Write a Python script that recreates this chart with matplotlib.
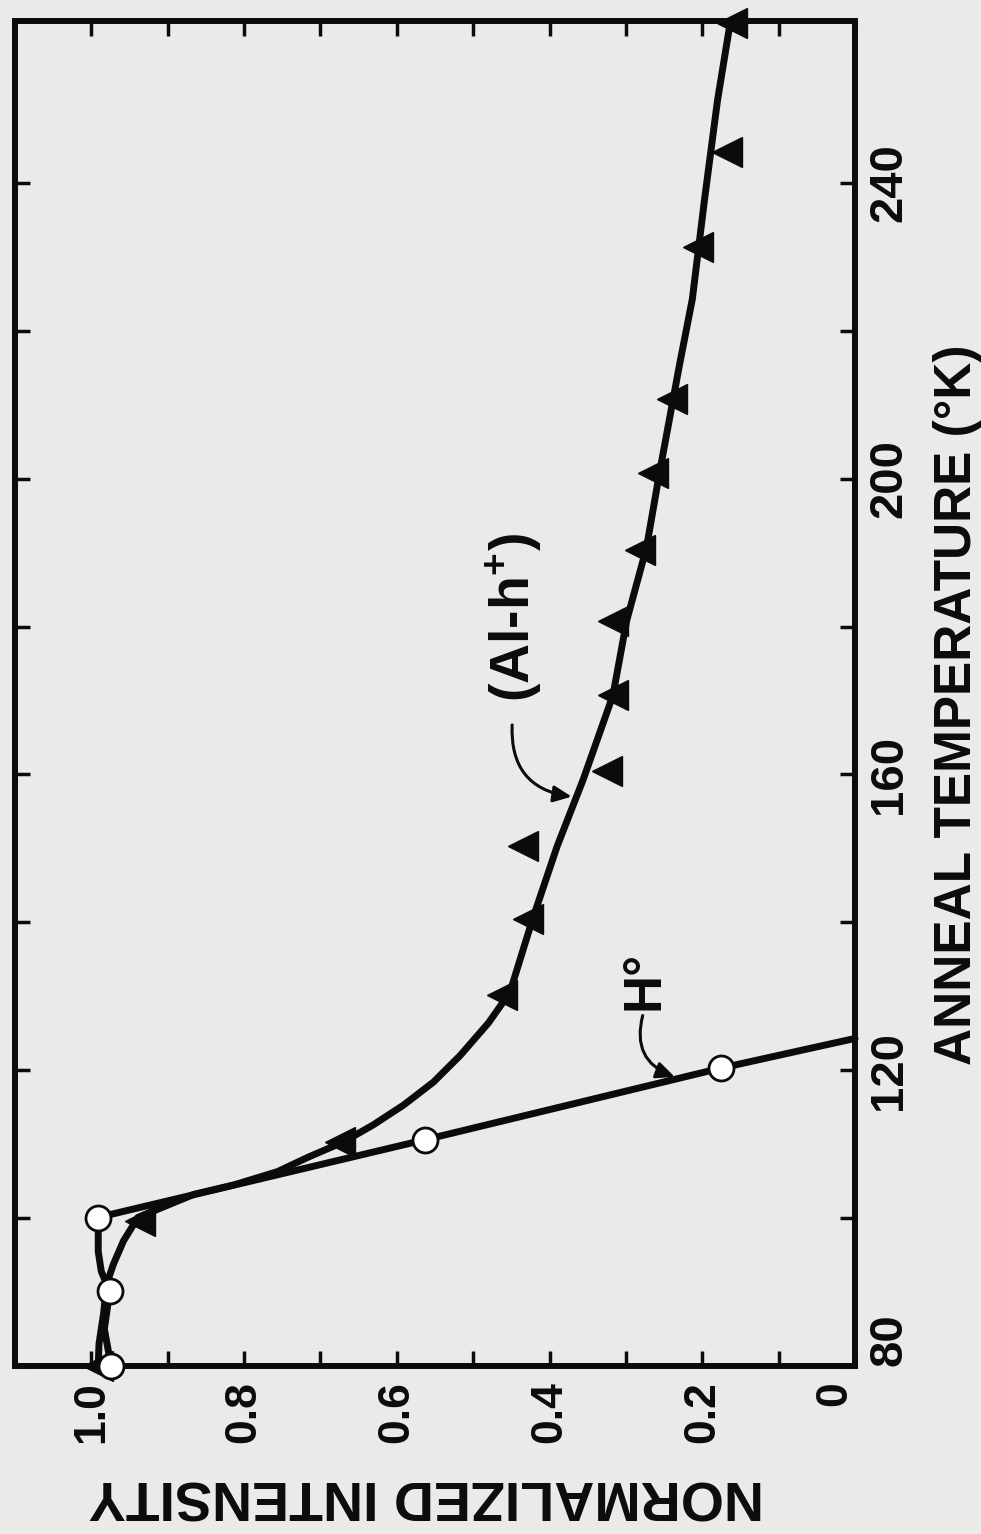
"""
plot.py

anneal curves of the H and (Al-h+) centres, drawn the way the scanned page
shows them (page turned a quarter turn, temperature running upward)
"""
import matplotlib
matplotlib.use('Agg')
from matplotlib import pyplot as plt

# H° centre, open circles
h_temp = [80.0, 90.1, 100.0, 110.6, 120.3]
h_int = [0.974, 0.976, 0.991, 0.563, 0.175]

# (Al-h+) centre, filled triangles
al_temp = [80.0, 99.6, 110.3, 130.2, 140.5, 150.3, 160.5, 170.7,
           180.7, 190.4, 200.8, 210.8, 231.4, 244.2, 261.6]
al_int = [0.991, 0.936, 0.674, 0.462, 0.428, 0.435, 0.325, 0.317,
          0.317, 0.282, 0.264, 0.240, 0.206, 0.167, 0.161]

# hand drawn guide curves
h_curve_temp = [79.9, 85.0, 90.1, 92.8, 95.5, 100.1, 110.6, 120.3, 124.3]
h_curve_int = [0.974, 0.983, 0.976, 0.987, 0.991, 0.991, 0.563, 0.175, 0.0]

al_curve_temp = [80.0, 83.0, 87.1, 91.1, 93.8, 96.9, 100.1, 103.2, 104.5,
                 106.3, 108.2, 110.3, 112.6, 115.3, 118.4, 122.0, 126.4,
                 130.5, 140.5, 150.3, 159.3, 170.7, 180.8, 190.7, 200.8,
                 215.3, 224.3, 237.8, 251.2, 261.3]
al_curve_int = [0.991, 0.990, 0.984, 0.980, 0.971, 0.958, 0.939, 0.866, 0.813,
                0.756, 0.717, 0.670, 0.631, 0.591, 0.552, 0.517, 0.480,
                0.452, 0.422, 0.390, 0.356, 0.317, 0.299, 0.273, 0.256,
                0.230, 0.213, 0.197, 0.180, 0.164]

int_ticks = [0, 0.2, 0.4, 0.6, 0.8, 1.0]
int_labels = ['0', '0.2', '0.4', '0.6', '0.8', '1.0']
int_minor = [0.1, 0.3, 0.5, 0.7, 0.9]
temp_ticks = [80, 120, 160, 200, 240]
temp_minor = [100, 140, 180, 220]

plt.rcParams['font.family'] = ['Liberation Sans', 'DejaVu Sans']
plt.rcParams['font.weight'] = 'bold'
plt.rcParams['mathtext.fontset'] = 'custom'
plt.rcParams['mathtext.rm'] = 'Liberation Sans:bold'
plt.rcParams['mathtext.bf'] = 'Liberation Sans:bold'

INK = '#0b0b0b'
PAPER = '#eaeae8'
W, H = 981, 1534

fig = plt.figure(figsize=(W / 100, H / 100), dpi=100, facecolor=PAPER)
ax = fig.add_axes([15 / W, 1 - 1366 / H, 840 / W, 1345 / H], facecolor=PAPER)

# curves first, markers on top
ax.plot(h_curve_int, h_curve_temp, color=INK, lw=5, clip_on=False,
        solid_joinstyle='round', solid_capstyle='round', zorder=3)
ax.plot(al_curve_int, al_curve_temp, color=INK, lw=5, clip_on=False,
        solid_joinstyle='round', solid_capstyle='round', zorder=3)
ax.plot(al_int, al_temp, linestyle='None', marker='<', ms=22,
        color=INK, clip_on=False, zorder=4)
ax.plot(h_int, h_temp, linestyle='None', marker='o', ms=18, mfc='white',
        mec=INK, mew=2, clip_on=False, zorder=5)

ax.set_xlim(1.1, 0)
ax.set_ylim(80.8, 261.9)

ax.set_xticks(int_ticks)
ax.set_xticklabels(int_labels)
ax.set_xticks(int_minor, minor=True)
ax.set_yticks(temp_ticks)
ax.set_yticks(temp_minor, minor=True)

for s in ax.spines.values():
    s.set_linewidth(4.3)
    s.set_color(INK)

ax.tick_params(which='both', direction='in', length=11, width=2.5, color=INK,
               top=True, bottom=True, left=True, right=True,
               labelleft=False, labelright=True, labeltop=False, labelbottom=True)
ax.tick_params(axis='x', labelsize=32, labelrotation=90, pad=11, labelcolor=INK)
ax.tick_params(axis='y', labelsize=34, labelrotation=90, pad=9, labelcolor=INK)

for lb in ax.get_yticklabels():
    lb.set_verticalalignment('center')
ax.get_yticklabels()[0].set_verticalalignment('bottom')
ax.get_xticklabels()[0].set_horizontalalignment('right')

# axis titles, rotated with the page
fig.text(426 / W, 1 - 1494 / H, 'NORMALIZED INTENSITY', rotation=180,
         fontsize=40, color=INK, ha='center', va='center')
fig.text(958 / W, 1 - 705 / H, 'ANNEAL TEMPERATURE (°K)', rotation=90,
         fontsize=37, color=INK, ha='center', va='center')

# curve names with their arrows
ax.text(0.447, 181.2, r'(Al-h$^{+}$)', rotation=90, fontsize=40, color=INK,
        ha='center', va='center')
ax.text(0.275, 132.1, 'H°', rotation=90, fontsize=38, color=INK,
        ha='center', va='center')

arrow = dict(arrowstyle='-|>,head_length=0.55,head_width=0.25', mutation_scale=20,
             color=INK, lw=2.2, shrinkA=0, shrinkB=0,
             connectionstyle='arc3,rad=0.45')
ax.annotate('', xy=(0.371, 157.0), xytext=(0.449, 166.7), arrowprops=arrow)
ax.annotate('', xy=(0.236, 119.1), xytext=(0.278, 127.4), arrowprops=arrow)

fig.savefig('out.png', dpi=100, facecolor=PAPER)
